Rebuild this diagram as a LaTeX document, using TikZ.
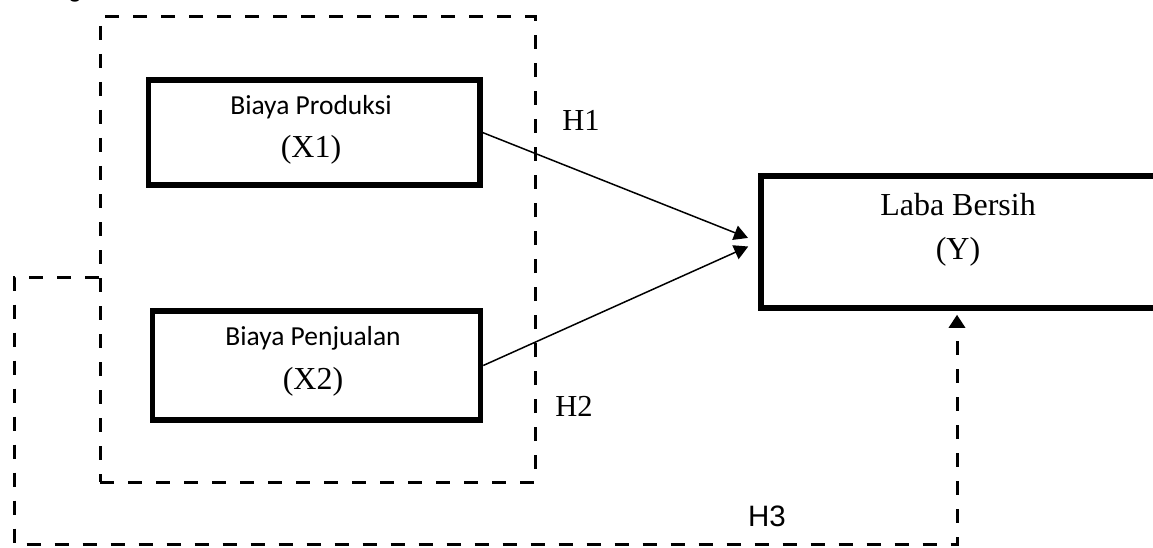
\documentclass[tikz,border=0pt]{standalone}
\usepackage{fontspec}
\setmainfont{Liberation Serif}
\newfontfamily\calfont{Carlito}
\newfontfamily\arialfont{Liberation Sans}
\usetikzlibrary{arrows.meta}
\tikzset{
  box/.style={draw, line width=5.5pt, minimum width=#1, inner sep=0pt},
  grpbox/.style={draw, line width=3pt, dash pattern=on 14pt off 14pt, inner sep=0pt},
  dsh/.style={line width=3pt, dash pattern=on 14pt off 14pt},
  conn/.style={line width=1.5pt, -{Triangle[length=14pt,width=15pt]}, shorten >=11pt},
  lab/.style={inner sep=0pt},
}
\begin{document}
\begin{tikzpicture}[x=1pt,y=-1pt]
\useasboundingbox (0,0) rectangle (1153,548);
% partial heading letter at the top edge
\node[lab, anchor=base] (g) at (75,-2) {\arialfont\bfseries\fontsize{22}{26}\selectfont g};
% dashed group
\node[grpbox, minimum width=435pt, minimum height=465pt] (grp) at (317.5,249.5) {};
% boxes
\node[box=331.5pt, minimum height=105pt] (x1) at (314,132.5) {};
\node[box=328pt, minimum height=109pt] (x2) at (316.5,365.5) {};
\node[box=404pt, minimum height=132pt] (y) at (963,242) {};
% texts
\node[lab] (t1a) at (311,107) {\calfont\fontsize{27.5}{32}\selectfont Biaya Produksi};
\node[lab] (t1b) at (311,150) {\fontsize{32}{36}\selectfont (X1)};
\node[lab] (t2a) at (313,338) {\calfont\fontsize{27.5}{32}\selectfont Biaya Penjualan};
\node[lab] (t2b) at (313,382) {\fontsize{32}{36}\selectfont (X2)};
\node[lab] (t3a) at (958,205) {\fontsize{32}{36}\selectfont Laba Bersih};
\node[lab] (t3b) at (958,252) {\fontsize{32}{36}\selectfont (Y)};
\node[lab] (h1) at (581,120) {\fontsize{30.5}{34}\selectfont H1};
\node[lab] (h2) at (574,406) {\fontsize{30.5}{34}\selectfont H2};
\node[lab] (h3) at (767,516) {\arialfont\fontsize{29.5}{32}\selectfont H3};
% connectors
\draw[conn] (x1.east) -- (y.west);
\draw[conn] (x2.east) -- (y.west);
\coordinate (c1) at (14,277);
\coordinate (c2) at (14,544);
\coordinate (c3) at (957,544);
\draw[dsh, -{Triangle[length=13pt,width=16pt]}, shorten >=4pt]
  ([yshift=-27.5pt]grp.west) -- (c1) -- (c2) -- (c3) -- (c3 |- y.south);
\end{tikzpicture}
\end{document}
